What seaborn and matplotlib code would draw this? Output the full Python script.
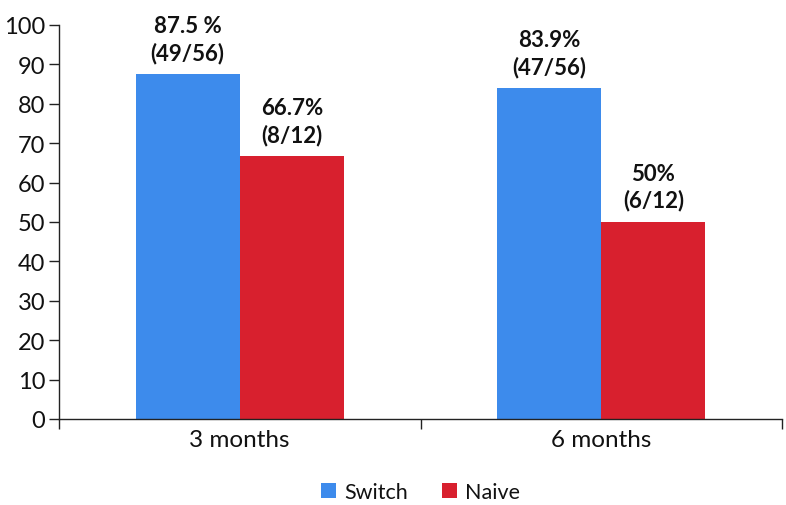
import matplotlib
matplotlib.use("Agg")
import matplotlib.pyplot as plt
import seaborn as sns
import pandas as pd

categories = ["3 months", "6 months"]
groups = ["Switch", "Naive"]
switch_values = [87.5, 83.9]
naive_values = [66.7, 50.0]
switch_labels = ["87.5 %\n(49/56)", "83.9%\n(47/56)"]
naive_labels = ["66.7%\n(8/12)", "50%\n(6/12)"]
y_ticks = [0, 10, 20, 30, 40, 50, 60, 70, 80, 90, 100]

df = pd.DataFrame({
    "period": categories * 2,
    "group": [groups[0]] * 2 + [groups[1]] * 2,
    "value": switch_values + naive_values,
})

sns.set_theme(style="white")
plt.rcParams["font.family"] = ["Lato", "DejaVu Sans"]

fig = plt.figure(figsize=(7.86, 5.06), dpi=100)
ax = fig.add_axes([0.075, 0.17, 0.92, 0.7787])

palette = {"Switch": "#3d8bec", "Naive": "#d8202e"}
sns.barplot(data=df, x="period", y="value", hue="group", hue_order=groups,
            palette=palette, width=0.576, ax=ax, saturation=1,
            edgecolor="none", errorbar=None)

labels = {"Switch": switch_labels, "Naive": naive_labels}
for cont, g in zip(ax.containers, groups):
    for bar, lab in zip(cont, labels[g]):
        ax.annotate(lab, (bar.get_x() + bar.get_width() / 2, bar.get_height()),
                    xytext=(0, 8), textcoords="offset points",
                    ha="center", va="bottom", fontsize=16, fontweight="bold",
                    color="#111111", linespacing=1.3)

ax.set_ylim(0, 100)
ax.set_xlim(-0.5, 1.5)
ax.set_yticks(y_ticks)
ax.tick_params(axis="y", which="major", direction="out", length=7, width=1,
               color="#222222", labelsize=17, labelcolor="#111111", left=True, pad=3)
ax.set_xticks([0, 1])
ax.set_xticklabels(categories)
ax.tick_params(axis="x", which="major", length=0, labelsize=17.5,
               labelcolor="#111111", pad=7)
ax.set_xticks([-0.5, 0.5, 1.5], minor=True)
ax.tick_params(axis="x", which="minor", direction="out", length=7, width=1,
               color="#222222", bottom=True)
ax.set_xlabel("")
ax.set_ylabel("")
sns.despine(ax=ax)
for s in ["left", "bottom"]:
    ax.spines[s].set_color("#222222")
    ax.spines[s].set_linewidth(1)

leg = ax.legend(loc="lower center", bbox_to_anchor=(0.5, -0.26), ncol=2,
                frameon=False, fontsize=15.5, handlelength=0.7, handleheight=0.7,
                handletextpad=0.35, columnspacing=1.6)
for t in leg.get_texts():
    t.set_color("#111111")

fig.savefig("out.png", dpi=100)
